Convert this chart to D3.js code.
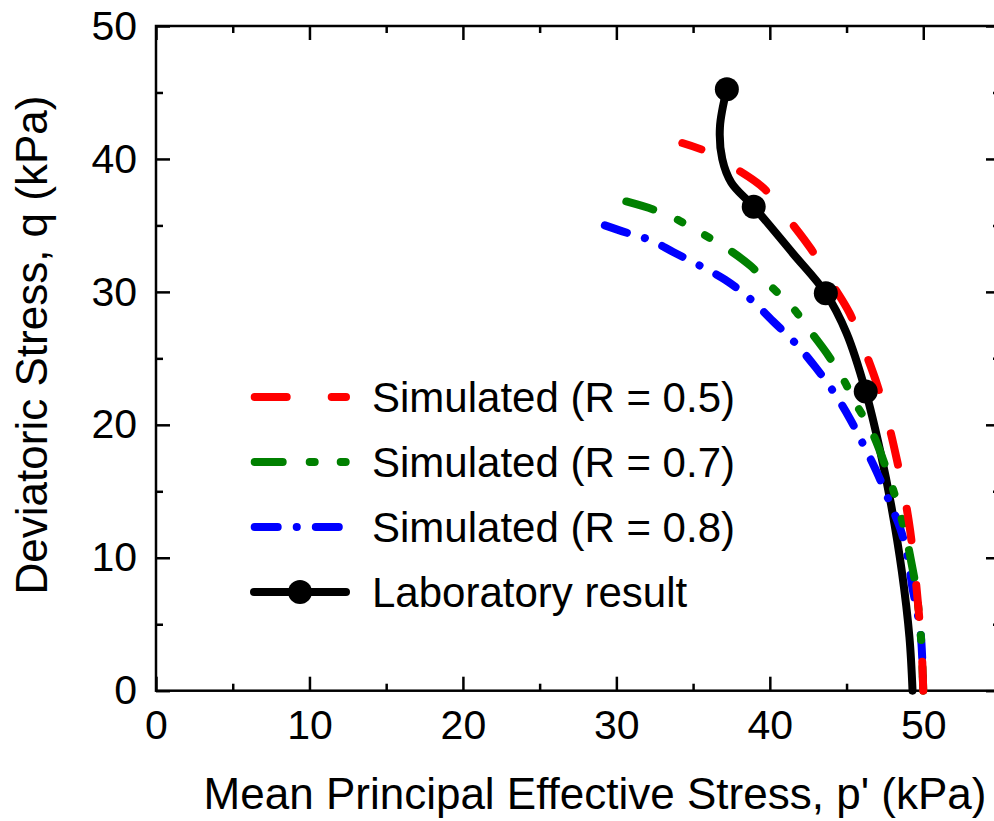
<!DOCTYPE html>
<html>
<head>
<meta charset="utf-8">
<script src="https://cdn.jsdelivr.net/npm/d3@7"></script>
<style>
  html, body { margin: 0; padding: 0; background: #fff; }
  svg { display: block; font-family: "Liberation Sans", Arial, sans-serif; }
</style>
</head>
<body>
<svg id="chart" width="994" height="821"></svg>
<script>
// Stress paths: mean principal effective stress p' (kPa) vs deviatoric stress q (kPa)
const simR05P = [50.0, 49.9, 49.7, 49.45, 49.15, 48.8, 48.35, 47.75, 47.0, 46.25, 45.2, 44.0, 42.7, 41.2, 39.6, 37.6, 36.0, 34.3];
const simR05Q = [0, 3, 6, 9, 12, 14.5, 17, 20, 23, 25.4, 28.4, 30.7, 33.2, 35.5, 37.8, 39.4, 40.5, 41.2];

const simR07P = [50.0, 49.85, 49.55, 49.25, 48.8, 48.2, 47.5, 46.6, 45.6, 44.8, 43.7, 42.6, 41.5, 40.0, 38.7, 36.9, 35.4, 33.7, 32.4, 30.65];
const simR07Q = [0, 4, 7.5, 9.5, 12, 14.5, 17, 19.6, 21.6, 23.4, 25.4, 27.1, 28.8, 30.5, 32.0, 33.5, 34.5, 35.6, 36.2, 36.8];

const simR08P = [50.0, 49.9, 49.8, 49.55, 49.3, 49.0, 48.5, 47.8, 46.95, 46.1, 45.2, 44.2, 43.0, 41.7, 40.2, 38.7, 37.1, 35.4, 33.7, 32.2, 30.8, 29.25];
const simR08Q = [0, 3.2, 4.6, 6.3, 7.7, 10, 12.2, 14.2, 16.5, 18.5, 20.5, 22.4, 24.3, 26.1, 27.8, 29.5, 30.9, 32.0, 33.0, 33.9, 34.4, 35.0];

const labP = [49.3, 49.1, 48.6, 47.9, 47.2, 46.25, 45.0, 43.65, 41.5, 38.95, 37.5, 36.9, 36.75, 37.2];
const labQ = [0, 4, 9, 14, 18, 22.5, 26.9, 29.9, 32.9, 36.4, 38.2, 40, 42.4, 45.25];
const labMarkerIdx = [5, 7, 9, 13];

const xMajorTicks = [0, 10, 20, 30, 40, 50];
const xMinorTicks = [5, 15, 25, 35, 45];
const yMajorTicks = [0, 10, 20, 30, 40, 50];
const yMinorTicks = [5, 15, 25, 35, 45];

const legendLabels = ["Simulated (R = 0.5)", "Simulated (R = 0.7)", "Simulated (R = 0.8)", "Laboratory result"];

const svg = d3.select("#chart");
const x = d3.scaleLinear().domain([0, 55]).range([156, 1000]);
const y = d3.scaleLinear().domain([0, 50]).range([690.7, 26]);

const zip = (ps, qs) => ps.map((p, i) => [p, qs[i]]);
const line = d3.line().x(d => x(d[0])).y(d => y(d[1])).curve(d3.curveCatmullRom.alpha(0.5));

// simulated paths are stroked from their upper (low p') end so the dash pattern starts there
const series = [
  { data: zip(simR05P, simR05Q).reverse(), color: "#ff0000", dash: "32,45", offset: 12 },
  { data: zip(simR07P, simR07Q).reverse(), color: "#008000", dash: "28,27,5,26,5,27", offset: 0 },
  { data: zip(simR08P, simR08Q).reverse(), color: "#0000ff", dash: "23,19,0.1,19", offset: 0 }
];
const lab = zip(labP, labQ);

// --- axes (ticks point inward on all four sides) ---
const axisColor = "#000";
function styleAxis(g) {
  g.selectAll("path.domain").remove();
  g.selectAll("line").attr("stroke", axisColor).attr("stroke-width", 2.5);
  g.selectAll("text").attr("fill", "#000").style("font-size", "41px").attr("font-family", "Liberation Sans, Arial, sans-serif");
}
const yTop = y(50), yBot = y(0), xL = x(0), xR = x(55);

svg.append("g").attr("transform", `translate(0,${yBot})`)
  .call(d3.axisBottom(x).tickValues(xMajorTicks).tickSizeInner(-14).tickSizeOuter(0).tickPadding(19).tickFormat(d3.format("d")))
  .call(styleAxis);
svg.append("g").attr("transform", `translate(0,${yBot})`)
  .call(d3.axisBottom(x).tickValues(xMinorTicks).tickSizeInner(-7).tickSizeOuter(0).tickFormat(""))
  .call(styleAxis);
svg.append("g").attr("transform", `translate(0,${yTop})`)
  .call(d3.axisTop(x).tickValues(xMajorTicks).tickSizeInner(-14).tickSizeOuter(0).tickFormat(""))
  .call(styleAxis);
svg.append("g").attr("transform", `translate(0,${yTop})`)
  .call(d3.axisTop(x).tickValues(xMinorTicks).tickSizeInner(-7).tickSizeOuter(0).tickFormat(""))
  .call(styleAxis);
svg.append("g").attr("transform", `translate(${xL},0)`)
  .call(d3.axisLeft(y).tickValues(yMajorTicks).tickSizeInner(-14).tickSizeOuter(0).tickPadding(19).tickFormat(d3.format("d")))
  .call(styleAxis);
svg.append("g").attr("transform", `translate(${xL},0)`)
  .call(d3.axisLeft(y).tickValues(yMinorTicks).tickSizeInner(-7).tickSizeOuter(0).tickFormat(""))
  .call(styleAxis);
svg.append("g").attr("transform", `translate(${xR},0)`)
  .call(d3.axisRight(y).tickValues(yMajorTicks).tickSizeInner(-14).tickSizeOuter(0).tickFormat(""))
  .call(styleAxis);
svg.append("g").attr("transform", `translate(${xR},0)`)
  .call(d3.axisRight(y).tickValues(yMinorTicks).tickSizeInner(-7).tickSizeOuter(0).tickFormat(""))
  .call(styleAxis);

// plot frame
svg.append("rect")
  .attr("x", xL).attr("y", yTop).attr("width", xR - xL).attr("height", yBot - yTop)
  .attr("fill", "none").attr("stroke", axisColor).attr("stroke-width", 2.5);

// axis titles
svg.append("text")
  .attr("x", 595).attr("y", 809).attr("text-anchor", "middle")
  .style("font-size", "44px").attr("fill", "#000")
  .text("Mean Principal Effective Stress, p' (kPa)");
svg.append("text")
  .attr("transform", "translate(47,345) rotate(-90)").attr("text-anchor", "middle")
  .style("font-size", "44px").attr("fill", "#000")
  .text("Deviatoric Stress, q (kPa)");

// --- curves ---
svg.append("path").datum(lab)
  .attr("d", line).attr("fill", "none").attr("stroke", "#000")
  .attr("stroke-width", 8).attr("stroke-linecap", "round").attr("stroke-linejoin", "round");

series.slice().reverse().forEach(s => {
  svg.append("path").datum(s.data)
    .attr("d", line).attr("fill", "none").attr("stroke", s.color)
    .attr("stroke-width", 8).attr("stroke-linecap", "round")
    .attr("stroke-dasharray", s.dash).attr("stroke-dashoffset", s.offset);
});

svg.append("g").selectAll("circle")
  .data(labMarkerIdx.map(i => lab[i]))
  .join("circle")
  .attr("cx", d => x(d[0])).attr("cy", d => y(d[1])).attr("r", 12).attr("fill", "#000");

// --- legend ---
const legendRowY = [397, 462, 527, 592];
const leg = svg.append("g");
series.forEach((s, i) => {
  leg.append("line")
    .attr("x1", 254.7).attr("x2", 346).attr("y1", legendRowY[i]).attr("y2", legendRowY[i])
    .attr("stroke", s.color).attr("stroke-width", 8).attr("stroke-linecap", "round")
    .attr("stroke-dasharray", s.dash);
});
leg.append("line")
  .attr("x1", 254).attr("x2", 346).attr("y1", legendRowY[3]).attr("y2", legendRowY[3])
  .attr("stroke", "#000").attr("stroke-width", 8).attr("stroke-linecap", "round");
leg.append("circle").attr("cx", 300).attr("cy", legendRowY[3]).attr("r", 12).attr("fill", "#000");

legendLabels.forEach((t, i) => {
  leg.append("text")
    .attr("x", 372).attr("y", legendRowY[i]).attr("dy", "0.36em")
    .style("font-size", "42px").attr("fill", "#000")
    .text(t);
});
</script>
</body>
</html>
